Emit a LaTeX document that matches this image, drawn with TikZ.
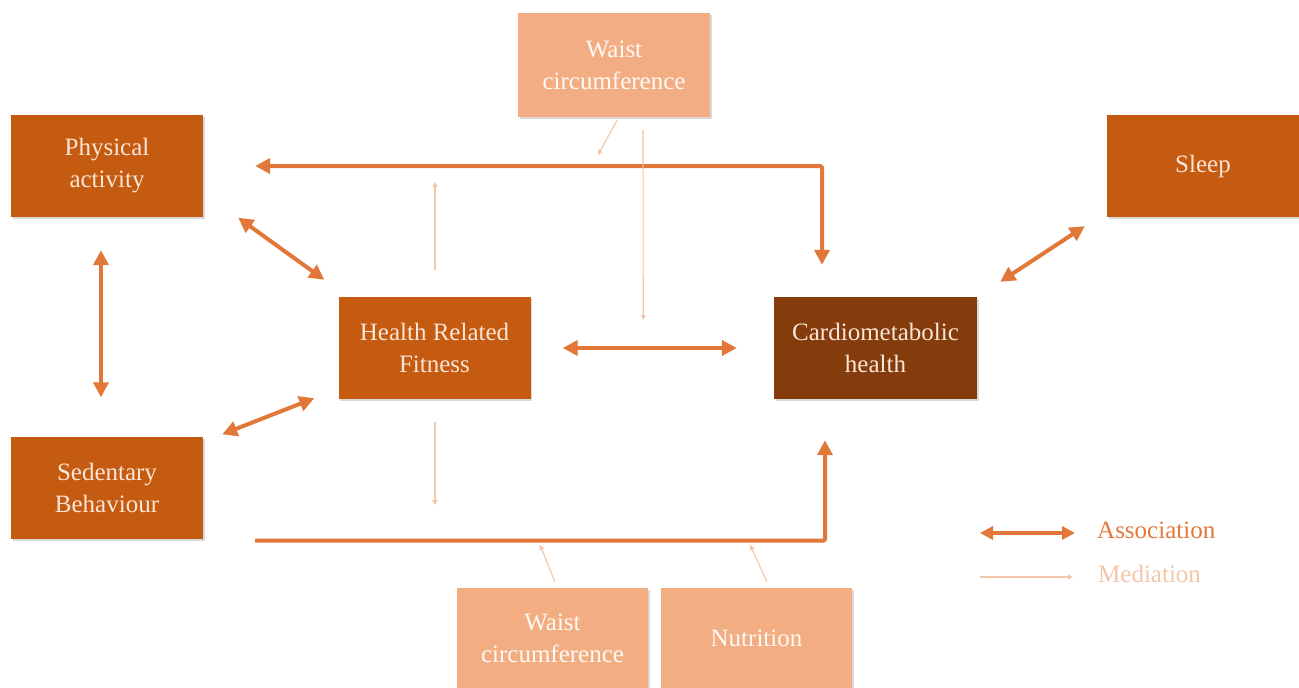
\documentclass[tikz,border=0pt]{standalone}
\usepackage{fontspec}
\setmainfont{Liberation Serif}
\usetikzlibrary{arrows.meta,calc,shadows}
\definecolor{boxor}{HTML}{C55A11}
\definecolor{boxdk}{HTML}{843C0C}
\definecolor{boxlt}{HTML}{F2AE82}
\definecolor{txtlt}{HTML}{FBE5D6}
\definecolor{assocc}{HTML}{E2773A}
\definecolor{medc}{HTML}{F3C6A8}
\begin{document}
\begin{tikzpicture}[x=1pt,y=-1pt,
  box/.style={rectangle,inner sep=0pt,minimum width=192pt,minimum height=102pt,
    text=txtlt,align=center,font=\fontsize{25}{32}\selectfont,
    drop shadow={opacity=0.3,shadow xshift=1.5pt,shadow yshift=-2pt}},
  orbox/.style={box,fill=boxor},
  dkbox/.style={box,fill=boxdk,minimum width=203pt},
  ltbox/.style={box,fill=boxlt,text=white!92!boxlt},
  assoc/.style={draw=assocc,line width=4pt,{Triangle[length=15pt,width=15pt]}-{Triangle[length=15pt,width=15pt]}},
  assocone/.style={draw=assocc,line width=4pt,-{Triangle[length=15pt,width=15pt]}},
  med/.style={draw=medc,line width=1.1pt,-{Triangle[length=5pt,width=5pt]}}
]
\useasboundingbox (0,0) rectangle (1299,688);

\node[ltbox,minimum height=104pt] (wt) at (614,65) {Waist\\circumference};
\node[orbox] (pa) at (107,166) {Physical\\activity};
\node[orbox] (sl) at (1203,166) {Sleep};
\node[orbox] (hrf) at (434.5,348) {Health Related\\Fitness};
\node[dkbox] (cm) at (875.5,348) {Cardiometabolic\\health};
\node[orbox] (sb) at (107,487.5) {Sedentary\\Behaviour};
\node[ltbox,minimum width=191pt,minimum height=100pt] (wb) at (552.5,638) {Waist\\circumference};
\node[ltbox,minimum width=191pt,minimum height=100pt] (nu) at (756.5,638) {Nutrition};

% association arrows
\draw[assoc] ($(pa.south east)+(35,0.5)$) -- ($(hrf.north west)+(-14,-17)$);
\draw[assoc] ($(pa.south)+(-6,33)$) -- ($(sb.north)+(-6,-39)$);
\draw[assoc] ($(sb.north east)+(19,-2)$) -- ($(hrf.south west)+(-24,-1)$);
\draw[assoc] ($(hrf.east)+(32,0)$) -- ($(cm.west)+(-37,0)$);
\draw[assoc] ($(cm.north east)+(23,-15)$) -- ($(sl.south west)+(-22,9)$);
\draw[assoc,rounded corners=2pt] ($(pa.east)+(52,0)$) -| ($(cm.north)+(-53.5,-32)$);
\draw[assocone,rounded corners=2pt] ($(sb.south east)+(52,2)$) -| ($(cm.south)+(-50.5,41)$);

% mediation arrows
\coordinate (m1) at (598,155);
\draw[med] ($(wt.south)+(3,3)$) -- (m1);
\draw[med] ($(wt.south)+(29,13)$) -- ($(hrf.east)!0.5!(cm.west)+(-9,-28)$);
\draw[med] ($(hrf.north)+(0.5,-27)$) -- ($(hrf.north)+(0.5,-115)$);
\draw[med] ($(hrf.south)+(0.5,23)$) -- ($(hrf.south)+(0.5,106)$);
\draw[med] ($(wb.north)+(2.5,-6)$) -- ($(wb.north)+(-12.5,-43)$);
\draw[med] ($(nu.north)+(10.5,-6)$) -- ($(nu.north)+(-6.5,-43)$);

% legend
\coordinate (la1) at (980,533);
\coordinate (la2) at (1075,533);
\draw[assoc,{Triangle[length=13pt,width=13pt]}-{Triangle[length=13pt,width=13pt]},line width=3.5pt] (la1) -- (la2);
\node[anchor=west,text=assocc,font=\fontsize{25}{28}\selectfont,inner sep=0pt] (lat) at (1097,530) {Association};
\coordinate (lm1) at (980,577);
\coordinate (lm2) at (1073,577);
\draw[med] (lm1) -- (lm2);
\node[anchor=west,text=medc,font=\fontsize{25}{28}\selectfont,inner sep=0pt] (lmt) at (1098,574) {Mediation};
\end{tikzpicture}
\end{document}
